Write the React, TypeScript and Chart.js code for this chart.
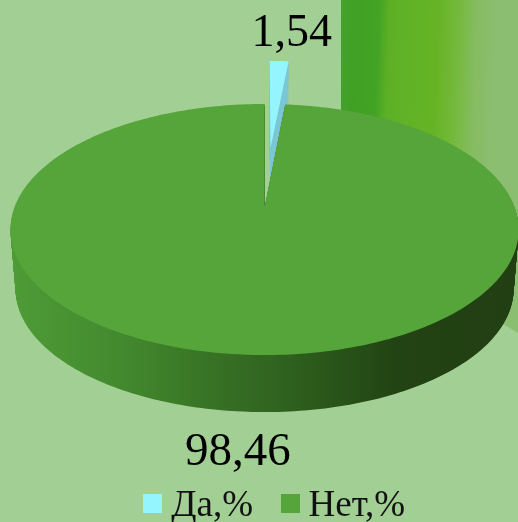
import React, { useEffect, useRef } from "react";
import { Chart, registerables } from "chart.js";

Chart.register(...registerables);

const categories = ["Да,%", "Нет,%"];
const values = [1.54, 98.46];
const topColors = ["#94F5FF", "#56A53A"];
const wallColors = ["#7CC7D3", ""];
const explode = [0.533, 0];

const FONT = '"Liberation Serif", "Times New Roman", serif';
const BASE_RADIUS = 100;

// perspective model of the disc
const CX = 264.6;
const APEX_Y = 207;
const K = 0.1793;
const B = 250;
const A = 121.5;
const DEPTH = 60;
const BOTTOM_SCALE = 0.98;
const LAYERS = 70;

const labelShift = [
  { x: 12.5, y: -15 },
  { x: -12, y: 110 },
];
const labelSize = [46, 47];

function project(u: number, v: number, t: number) {
  const s = 1 - (1 - BOTTOM_SCALE) * t;
  const w = 1 - K * v;
  return {
    x: CX + (B * s * u) / w,
    y: APEX_Y + DEPTH * t + (A * s * v) / w,
  };
}

function sectorPath(ctx: CanvasRenderingContext2D, a0: number, a1: number, ou: number, ov: number, t: number) {
  ctx.beginPath();
  const c = project(ou, ov, t);
  ctx.moveTo(c.x, c.y);
  const n = Math.max(4, Math.ceil(((a1 - a0) / (Math.PI * 2)) * 360));
  for (let i = 0; i <= n; i++) {
    const a = a0 + ((a1 - a0) * i) / n;
    const p = project(ou + Math.cos(a), ov + Math.sin(a), t);
    ctx.lineTo(p.x, p.y);
  }
  ctx.closePath();
}

function wallGradient(ctx: CanvasRenderingContext2D) {
  const g = ctx.createLinearGradient(10, 0, 518, 0);
  const stops: [number, string][] = [
    [0, "#4F9B37"],
    [0.18, "#458D30"],
    [0.32, "#3C7D28"],
    [0.42, "#366F24"],
    [0.57, "#2D5E1D"],
    [0.76, "#224313"],
    [1, "#223F13"],
  ];
  stops.forEach(([o, c]) => g.addColorStop(o, c));
  return g;
}

function paintBackground(ctx: CanvasRenderingContext2D, w: number, h: number) {
  ctx.fillStyle = "#A2CF94";
  ctx.fillRect(0, 0, w, h);
  ctx.save();
  ctx.beginPath();
  ctx.moveTo(341, 0);
  ctx.lineTo(518, 0);
  ctx.lineTo(518, 333);
  ctx.lineTo(341, 228);
  ctx.closePath();
  ctx.clip();
  const g = ctx.createLinearGradient(341, 0, 500, 6);
  const stops: [number, string][] = [
    [0, "#45A22E"],
    [0.1, "#3FA024"],
    [0.24, "#42A324"],
    [0.31, "#5DB025"],
    [0.62, "#66B426"],
    [0.74, "#74B93C"],
    [0.86, "#86BC62"],
    [1, "#8CBE72"],
  ];
  stops.forEach(([o, c]) => g.addColorStop(o, c));
  ctx.fillStyle = g;
  ctx.fillRect(341, 0, 177, 340);
  ctx.restore();
}

function legendSwatch(color: string) {
  const c = document.createElement("canvas");
  c.width = 19;
  c.height = 25;
  const x = c.getContext("2d")!;
  x.fillStyle = color;
  x.fillRect(0, 0, 19, 19);
  return c;
}

const pie3d = {
  id: "pie3d",
  afterLayout(chart: any) {
    const l = chart.legend;
    const pad = l.options.labels.padding;
    const size = l.options.labels.font.size;
    l.left = 40;
    l.right = chart.width;
    l.width = l.right - l.left;
    l.top = chart.height - size - pad + 3;
    l.bottom = chart.height + pad;
    l.height = l.bottom - l.top;
  },
  beforeDraw(chart: any) {
    paintBackground(chart.ctx, chart.width, chart.height);
  },
  beforeDatasetsDraw(chart: any) {
    const ctx: CanvasRenderingContext2D = chart.ctx;
    const arcs = chart.getDatasetMeta(0).data;
    const wallFill = wallGradient(ctx);
    ctx.save();
    arcs.forEach((arc: any, i: number) => {
      const mid = (arc.startAngle + arc.endAngle) / 2;
      const frac = (arc.options.offset || 0) / arc.outerRadius;
      const ou = Math.cos(mid) * frac;
      const ov = Math.sin(mid) * frac;
      ctx.fillStyle = wallColors[i] || wallFill;
      for (let l = LAYERS; l > 0; l--) {
        sectorPath(ctx, arc.startAngle, arc.endAngle, ou, ov, l / LAYERS);
        ctx.fill();
      }
      ctx.fillStyle = arc.options.backgroundColor;
      sectorPath(ctx, arc.startAngle, arc.endAngle, ou, ov, 0);
      ctx.fill();
    });
    ctx.fillStyle = "#000";
    ctx.textAlign = "center";
    ctx.textBaseline = "alphabetic";
    arcs.forEach((arc: any, i: number) => {
      const mid = (arc.startAngle + arc.endAngle) / 2;
      const frac = (arc.options.offset || 0) / arc.outerRadius;
      const p = project(Math.cos(mid) * (1 + frac), Math.sin(mid) * (1 + frac), 0);
      const text = String(values[i]).replace(".", ",");
      ctx.font = `${labelSize[i]}px ${FONT}`;
      ctx.fillText(text, p.x + labelShift[i].x, p.y + labelShift[i].y);
    });
    ctx.restore();
    return false;
  },
};

export default function App() {
  const ref = useRef<HTMLCanvasElement | null>(null);
  useEffect(() => {
    document.body.style.margin = "0";
    const chart = new Chart(ref.current!, {
      type: "pie",
      data: {
        labels: categories,
        datasets: [
          {
            data: values,
            backgroundColor: topColors,
            borderWidth: 0,
            offset: explode.map((e) => e * BASE_RADIUS),
          },
        ],
      },
      options: {
        responsive: false,
        animation: false,
        radius: BASE_RADIUS,
        plugins: {
          tooltip: { enabled: false },
          legend: {
            position: "bottom",
            labels: {
              usePointStyle: true,
              boxWidth: 0.01,
              boxHeight: 19,
              padding: 37,
              color: "#111",
              font: { family: FONT, size: 37 },
              generateLabels: () =>
                categories.map((text, i) => ({
                  text,
                  index: i,
                  datasetIndex: 0,
                  fontColor: "#111",
                  fillStyle: topColors[i],
                  strokeStyle: topColors[i],
                  lineWidth: 0,
                  pointStyle: legendSwatch(topColors[i]),
                  hidden: false,
                })),
            },
          },
        },
      } as any,
      plugins: [pie3d as any],
    });
    return () => chart.destroy();
  }, []);
  return (
    <div style={{ width: 518, height: 522, overflow: "hidden" }}>
      <canvas ref={ref} width={518} height={522} style={{ display: "block" }} />
    </div>
  );
}
